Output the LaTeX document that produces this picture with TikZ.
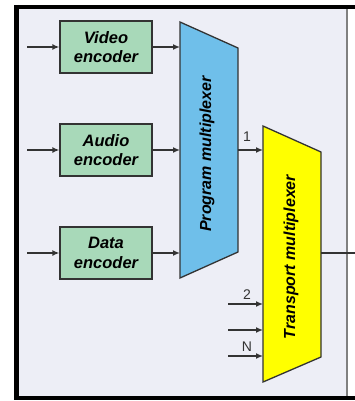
\documentclass[tikz,border=0pt]{standalone}
\usepackage{fontspec}
\setmainfont{Liberation Sans}
\usetikzlibrary{arrows.meta}
\definecolor{panelbg}{HTML}{EDEEF6}
\definecolor{encgreen}{HTML}{A8D9B9}
\definecolor{muxblue}{HTML}{6FBFEA}
\definecolor{muxyellow}{HTML}{FFFF00}
\definecolor{linegray}{HTML}{333333}
\tikzset{
	encoder/.style={draw=linegray, line width=1.3pt, fill=encgreen,
		minimum width=92pt, minimum height=52pt, align=center,
		font=\bfseries\itshape\fontsize{16.5}{19.5}\selectfont},
	mux/.style={draw=linegray, line width=1.3pt},
	muxtext/.style={rotate=90, font=\bfseries\itshape\fontsize{16}{18}\selectfont},
	sig/.style={draw=linegray, line width=1.4pt, -{Latex[length=7pt,width=6pt]}},
	port/.style={text=linegray, font=\fontsize{14}{16}\selectfont}
}
\begin{document}
\begin{tikzpicture}[x=1pt,y=-1pt]
	\useasboundingbox (0,0) rectangle (355,401);
	\fill[white] (0,0) rectangle (355,401);
	\fill[panelbg] (16,7) rectangle (347,398);
	\draw[gray, line width=1.5pt] (347,9) -- (347,396);
	\draw[black, line width=4.5pt] (14,7.25) -- (355,7.25);
	\draw[black, line width=4.5pt] (16.25,5) -- (16.25,400);
	\draw[black, line width=4.5pt] (14,397.75) -- (355,397.75);
	% encoders
	\node[encoder] (video) at (106,47) {Video\\encoder};
	\node[encoder] (audio) at (106,150) {Audio\\encoder};
	\node[encoder] (data) at (106,253) {Data\\encoder};
	% program multiplexer
	\draw[mux, fill=muxblue] (180,22) -- (238,48) -- (238,252) -- (180,278) -- cycle;
	\node[muxtext] (prog) at (207,154) {Program multiplexer};
	% transport multiplexer
	\draw[mux, fill=muxyellow] (263,126) -- (321,152) -- (321,357) -- (263,382) -- cycle;
	\node[muxtext] (trans) at (291,257) {Transport multiplexer};
	% ports
	\coordinate (in-v) at (27,47);
	\coordinate (in-a) at (27,150);
	\coordinate (in-d) at (27,253);
	\coordinate (pm-v) at (180,47);
	\coordinate (pm-a) at (180,150);
	\coordinate (pm-d) at (180,253);
	\coordinate (pm-out) at (238,150);
	\coordinate (tm-1) at (263,150);
	\coordinate (in-2) at (228,304);
	\coordinate (in-3) at (228,330);
	\coordinate (in-n) at (228,356);
	\coordinate (tm-2) at (263,304);
	\coordinate (tm-3) at (263,330);
	\coordinate (tm-n) at (263,356);
	\coordinate (tm-out) at (321,253);
	\coordinate (ts) at (355,253);
	\draw[sig] (in-v) -- (video);
	\draw[sig] (in-a) -- (audio);
	\draw[sig] (in-d) -- (data);
	\draw[sig] (video) -- (pm-v);
	\draw[sig] (audio) -- (pm-a);
	\draw[sig] (data) -- (pm-d);
	\draw[sig] (pm-out) -- (tm-1);
	\draw[sig] (in-2) -- (tm-2);
	\draw[sig] (in-3) -- (tm-3);
	\draw[sig] (in-n) -- (tm-n);
	\draw[draw=linegray, line width=1.3pt] (tm-out) -- (ts);
	\node[port] (p1) at (247,137) {1};
	\node[port] (p2) at (247,295) {2};
	\node[port] (pn) at (247,347) {N};
\end{tikzpicture}
\end{document}
